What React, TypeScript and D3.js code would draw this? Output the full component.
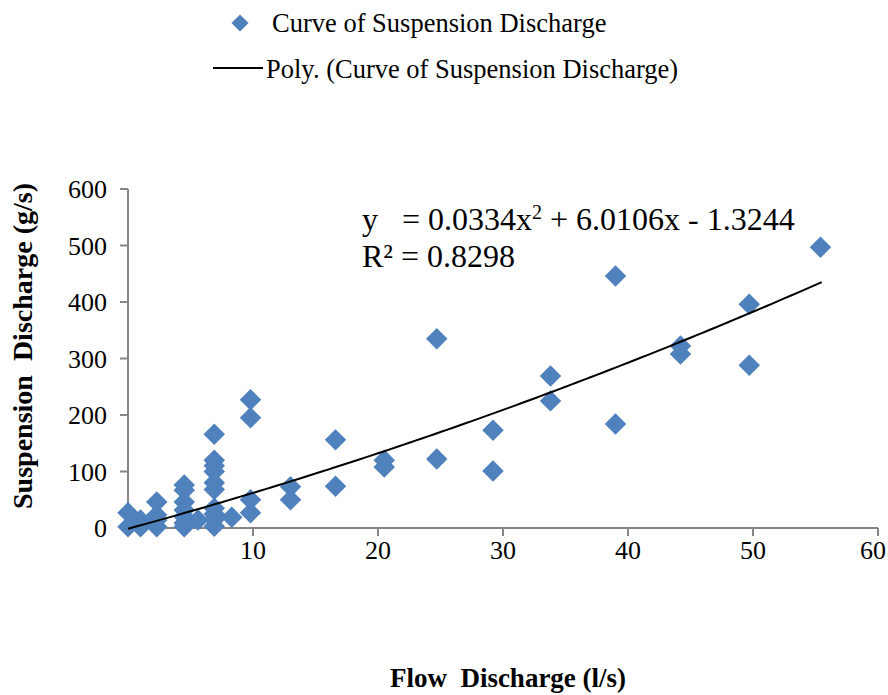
import React from 'react';
import { scaleLinear, line, symbol, symbolSquare, range } from 'd3';

// flow discharge (l/s) and suspension discharge (g/s)
const flowDischarge = [
  0, 0, 1, 1,
  2.3, 2.3, 2.3, 2.3,
  4.5, 4.5, 4.5, 4.5, 4.5, 4.5, 4.5,
  5.6,
  6.9, 6.9, 6.9, 6.9, 6.9, 6.9, 6.9, 6.9, 6.9, 6.9,
  8.3,
  9.8, 9.8, 9.8, 9.8,
  13, 13,
  16.6, 16.6,
  20.5, 20.5,
  24.7, 24.7,
  29.2, 29.2,
  33.8, 33.8,
  39, 39,
  44.2, 44.2,
  49.7, 49.7,
  55.4,
];
const suspensionDischarge = [
  27, 2, 14, 2,
  46, 23, 14, 2,
  76, 67, 46, 32, 20, 9, 2,
  14,
  166, 120, 110, 100, 80, 68, 35, 25, 15, 3,
  19,
  227, 195, 50, 27,
  73, 50,
  156, 74,
  120, 108,
  335, 122,
  173, 101,
  269, 225,
  446, 184,
  322, 308,
  396, 288,
  497,
];

// fitted polynomial trendline: y = a x^2 + b x + c
const trendCoef = [0.0334, 6.0106, -1.3244];
const trendRange = [0, 55.5];

const xTicks = [10, 20, 30, 40, 50, 60];
const yTicks = [0, 100, 200, 300, 400, 500, 600];

const seriesName = 'Curve of Suspension Discharge';
const trendName = 'Poly. (Curve of Suspension Discharge)';

const App = () => {
  const width = 888;
  const height = 695;
  const left = 128;
  const right = 878;
  const top = 189;
  const bottom = 528;

  const x = scaleLinear().domain([0, 60]).range([left, right]);
  const y = scaleLinear().domain([0, 600]).range([bottom, top]);

  const blue = '#4F81BD';
  const axisColor = '#868686';
  const font = "'Times New Roman', 'Liberation Serif', serif";
  const pre = { whiteSpace: 'pre' as const };

  const diamond = symbol().type(symbolSquare).size(230)();

  const trendX = range(trendRange[0], trendRange[1] + 0.001, 0.5);
  const trendPath = line<number>()
    .x((d) => x(d))
    .y((d) => y(trendCoef[0] * d * d + trendCoef[1] * d + trendCoef[2]))(trendX);

  const points = flowDischarge.map((f, i) => ({ f, s: suspensionDischarge[i] }));

  return (
    <svg
      width={width}
      height={height}
      style={{ position: 'absolute', left: 0, top: 0, background: '#fff', fontFamily: font }}
    >
      {/* legend */}
      <path d={diamond} transform="translate(240,23) rotate(45) scale(0.8)" fill={blue} />
      <text x={272} y={32} fontSize={26.5}>{seriesName}</text>
      <line x1={213} x2={263} y1={68} y2={68} stroke="#000" strokeWidth={2} />
      <text x={266} y={78} fontSize={26.5}>{trendName}</text>

      {/* y axis */}
      <line x1={left} x2={left} y1={top} y2={bottom} stroke={axisColor} strokeWidth={2} />
      {yTicks.map((t) => (
        <g key={`y${t}`}>
          <line x1={left - 8} x2={left} y1={y(t)} y2={y(t)} stroke={axisColor} strokeWidth={2} />
          <text x={107} y={y(t) + 9} textAnchor="end" fontSize={26}>{t}</text>
        </g>
      ))}

      {/* x axis */}
      <line x1={left} x2={right} y1={bottom} y2={bottom} stroke={axisColor} strokeWidth={2} />
      {xTicks.map((t) => (
        <g key={`x${t}`}>
          <line x1={x(t)} x2={x(t)} y1={bottom} y2={bottom + 8} stroke={axisColor} strokeWidth={2} />
          <text x={Math.min(x(t), 873)} y={559} textAnchor="middle" fontSize={26}>{t}</text>
        </g>
      ))}

      {/* points */}
      {points.map((p, i) => (
        <path
          key={i}
          d={diamond}
          transform={`translate(${x(p.f)},${y(p.s)}) rotate(45)`}
          fill={blue}
        />
      ))}

      {/* trendline */}
      <path d={trendPath ?? ''} fill="none" stroke="#000" strokeWidth={2} />

      {/* equation */}
      <text x={362} y={230} fontSize={32} xmlSpace="preserve" style={pre}>
        {'y   = 0.0334x'}
        <tspan dy={-11} fontSize={20}>2</tspan>
        <tspan dy={11}>{' + 6.0106x - 1.3244'}</tspan>
      </text>
      <text x={362} y={267} fontSize={32}>R² = 0.8298</text>

      {/* axis titles */}
      <text
        transform="translate(32,346) rotate(-90)"
        textAnchor="middle"
        fontSize={28}
        fontWeight="bold"
        xmlSpace="preserve"
        style={pre}
      >
        {'Suspension  Discharge (g/s)'}
      </text>
      <text x={508} y={687} textAnchor="middle" fontSize={27} fontWeight="bold" xmlSpace="preserve" style={pre}>
        {'Flow  Discharge (l/s)'}
      </text>
    </svg>
  );
};

export default App;
